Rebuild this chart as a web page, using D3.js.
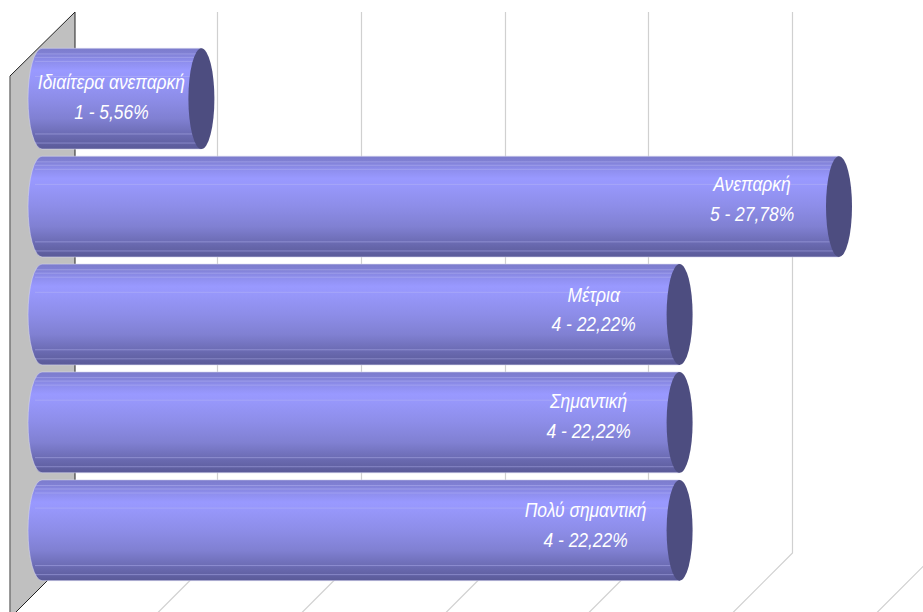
<!DOCTYPE html>
<html><head><meta charset="utf-8">
<style>html,body{margin:0;padding:0;background:#fff}svg{display:block}</style>
<script src="https://cdn.jsdelivr.net/npm/d3@7/dist/d3.min.js"></script></head>
<body><svg id="c" width="923" height="612"></svg>
<script>
const categories = ["Ιδιαίτερα ανεπαρκή","Ανεπαρκή","Μέτρια","Σημαντική","Πολύ σημαντική"];
const counts = [1,5,4,4,4];
const percents = ["5,56%","27,78%","22,22%","22,22%","22,22%"];
const gridTicks = [0,1,2,3,4,5,6];
const labelInsets = [90,87,86,91,94];
const labelLifts = [1,7,4,5,4];

const svg = d3.select("#c"), W=923,H=612;
const xBack = d3.scaleLinear().domain([0,6]).range([74,936]);
const xFront = d3.scaleLinear().domain([0,5]).range([42,839]);
const y = d3.scaleBand().domain(categories).range([44,585]).paddingInner(0.066).paddingOuter(0.04);
const depth = 65, backTop=12, backBottom=553;

const defs = svg.append("defs");
const stops = [[0,"#7c7ccc"],[.05,"#8080d4"],[.12,"#8c8cea"],[.22,"#9999ff"],[.3,"#9797fa"],[.5,"#8d8de8"],[.7,"#8080d2"],[.85,"#6c6cb4"],[1,"#5a5a98"]];
const g = defs.append("linearGradient").attr("id","cyl").attr("x1",0).attr("x2",0).attr("y1",0).attr("y2",1);
stops.forEach(s=>g.append("stop").attr("offset",s[0]).attr("stop-color",s[1]));

svg.append("path").attr("d",`M10,76L75,${backTop}L75,${backBottom}L10,${backBottom+depth}Z`).attr("fill","#c0c0c0");
svg.append("path").attr("d",`M10,${backBottom+depth}V76`).attr("fill","none").attr("stroke","#777").attr("stroke-width",1.5);
svg.append("path").attr("d",`M10,76L75,${backTop}V${backBottom}L10,${backBottom+depth}`).attr("fill","none").attr("stroke","#222").attr("stroke-width",1);

const grid = svg.append("g").attr("fill","none").attr("stroke","#d0d0d0").attr("stroke-width",1.2);
gridTicks.slice(1).forEach(t=>{
  const x=Math.floor(xBack(t))+.5;
  grid.append("path").attr("d",`M${x},${backTop}V${backBottom}L${x-depth},${backBottom+depth}`);
});

const lightLines=[.056,.09,.13,.28,.85,.94];
categories.forEach((c,i)=>{
  const x1=xFront(counts[i]), x0=xFront(0), t=y(c), h=y.bandwidth(), ry=h/2, rx=13, cy=t+ry;
  const row=svg.append("g");
  row.append("path").attr("d",`M${x1},${t}H${x0}A14,${ry} 0 0 0 ${x0},${t+h}H${x1}Z`).attr("fill","url(#cyl)").attr("stroke","#d4d4ee").attr("stroke-width",.6);
  lightLines.forEach(f=>row.append("line").attr("x1",x0-7).attr("x2",x1).attr("y1",t+f*h).attr("y2",t+f*h).attr("stroke","#b8b8f4").attr("stroke-opacity",.45).attr("stroke-width",1));
  row.append("ellipse").attr("cx",x1).attr("cy",cy).attr("rx",rx).attr("ry",ry).attr("fill","#4d4d80");
  const tx=x1-labelInsets[i];
  const txt=row.append("text").attr("text-anchor","middle").attr("fill","#fff")
    .attr("font-family","Liberation Sans, Arial, sans-serif").attr("font-style","italic").attr("font-size",21)
    .attr("transform",`translate(${tx},${cy-labelLifts[i]}) scale(0.83,1)`);
  txt.append("tspan").attr("x",0).attr("y",-9).text(c);
  txt.append("tspan").attr("x",0).attr("y",21).text(`${counts[i]} - ${percents[i]}`);
});
</script></body></html>
